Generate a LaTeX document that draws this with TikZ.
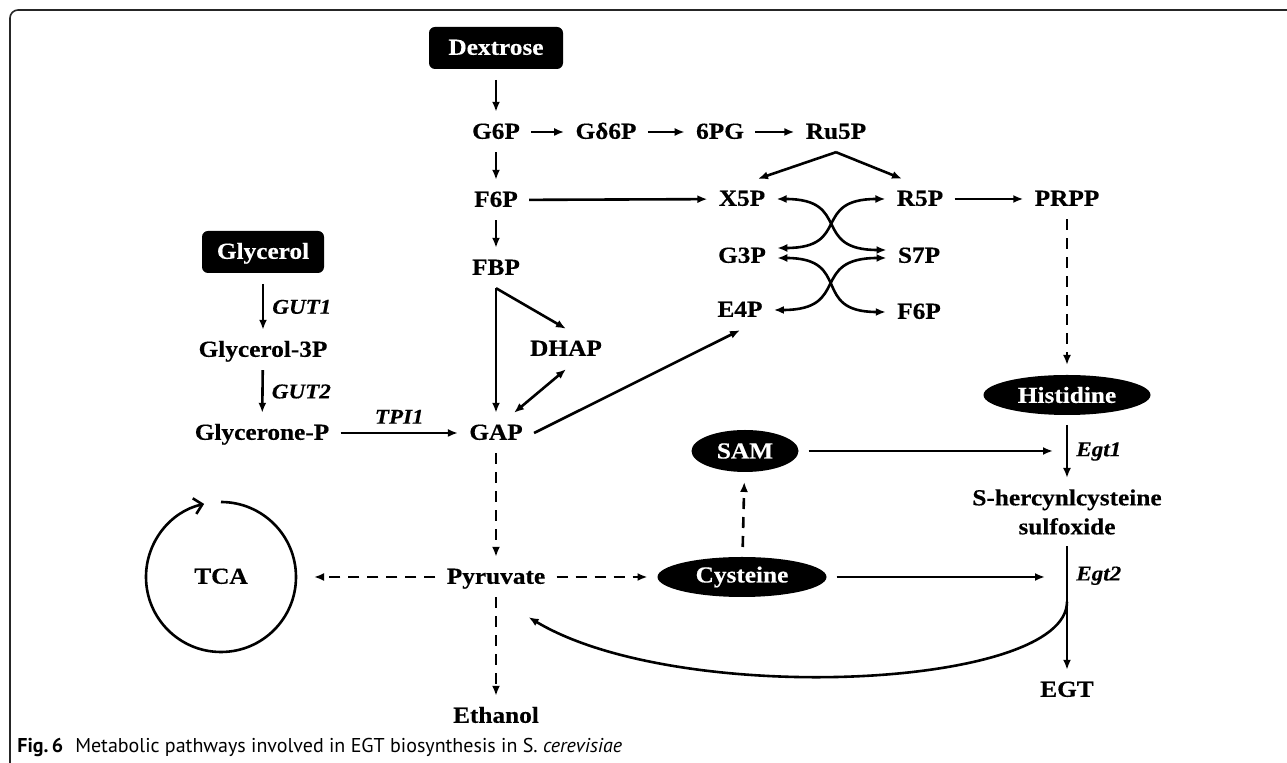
\documentclass[tikz,border=0pt]{standalone}
\usepackage{fontspec}
\usepackage{tikz}
\usetikzlibrary{shapes.geometric,arrows.meta,calc}
\newfontfamily\dfont{Liberation Serif}[FakeStretch=1.1,BoldFeatures={FakeBold=0.4},BoldItalicFeatures={FakeBold=0.4}]
\newfontfamily\cfont{PT Sans}
\tikzset{txt/.style={font=\dfont\bfseries\fontsize{11.5}{14.5}\selectfont,inner sep=5.5pt}}
\tikzset{met/.style={txt,text height=7.8pt,text depth=1pt}}
\tikzset{src/.style={met,fill=black,text=white,rounded corners=3pt,minimum height=21pt,outer sep=5.5pt}}
\tikzset{amino/.style={ellipse,fill=black,text=white,inner sep=0pt,outer sep=5pt,minimum height=20pt,font=\dfont\bfseries\fontsize{11.5}{14}\selectfont}}
\tikzset{enz/.style={font=\dfont\bfseries\itshape\fontsize{10.5}{12}\selectfont,inner sep=4pt}}
\tikzset{flow/.style={line width=1.3pt,-{Latex[length=5pt,width=4pt]}}}
\tikzset{dflow/.style={flow,dash pattern=on 5.5pt off 4pt}}
\tikzset{bflow/.style={line width=1.3pt,{Latex[length=5pt,width=4pt]}-{Latex[length=5pt,width=4pt]}}}
\tikzset{cyc/.style={line width=1.3pt,-{Straight Barb[length=4pt,width=8pt]}}}
\tikzset{figcap/.style={font=\cfont\fontsize{10}{12}\selectfont,inner sep=0pt,anchor=base west}}

\begin{document}
\begin{tikzpicture}[x=0.5pt,y=-0.5pt]
\useasboundingbox (0,0) rectangle (1287,763);
\draw[line width=0.8pt,black!85,rounded corners=4pt] (10,775) -- (10,10) -- (1300,10);
% glycolysis and pentose phosphate
\node[src,minimum width=67pt] (dex) at (496,48) {Dextrose};
\node[met] (g6p) at (496,132) {G6P};
\node[met] (gd6p) at (606,132) {Gδ6P};
\node[met] (pg6) at (720,132) {6PG};
\node[met] (ru5p) at (836,132) {Ru5P};
\node[met] (f6p) at (496,200) {F6P};
\node[met] (x5p) at (742,199) {X5P};
\node[met] (r5p) at (920,199) {R5P};
\node[met] (prpp) at (1067,199) {PRPP};
\node[met] (g3p) at (742,256) {G3P};
\node[met] (s7p) at (919,256) {S7P};
\node[met] (e4p) at (740,310) {E4P};
\node[met] (f6pb) at (919,312) {F6P};
\node[met] (fbp) at (496,268) {FBP};
\node[met] (dhap) at (566,349) {DHAP};
\node[met] (gap) at (496,433) {GAP};
% glycerol branch
\node[src,minimum width=61pt] (gly) at (263,252) {Glycerol};
\node[met] (gly3p) at (263,350) {Glycerol-3P};
\node[met] (glyp) at (262,433) {Glycerone-P};
% lower part
\node[met] (pyr) at (496,577) {Pyruvate};
\node[met,circle,minimum size=75pt,outer sep=9pt] (tca) at (221,577) {TCA};
\node[met] (eth) at (496,716) {Ethanol};
\node[amino,minimum width=84.5pt] (cys) at (742,577) {Cysteine};
\node[amino,minimum width=53.5pt,minimum height=21pt] (sam) at (745,451) {SAM};
\node[amino,minimum width=83.5pt] (his) at (1067,395) {Histidine};
\node[txt,align=center] (shc) at (1067,512) {S-hercynlcysteine\\sulfoxide};
\node[met] (egt) at (1067,690) {EGT};
\node[figcap] (caption) at (17,753) {\textbf{Fig.\,6}\hspace{6pt}Metabolic pathways involved in EGT biosynthesis in S.\ \textit{cerevisiae}};

\path[flow] (dex) edge (g6p);
\path[flow] (g6p) edge (gd6p);
\path[flow] (gd6p) edge (pg6);
\path[flow] (pg6) edge (ru5p);
\path[flow] (g6p) edge (f6p);
\path[flow] (ru5p.south) edge ([xshift=8pt]x5p.north);
\path[flow] (ru5p.south) edge ([xshift=-9pt]r5p.north);
\path[flow] (f6p) edge (x5p);
\path[flow] (r5p) edge (prpp);
\path[bflow] (x5p.east) edge[out=0,in=180,looseness=1.6] ([yshift=3pt]s7p.west);
\path[bflow] ([yshift=4pt]g3p.east) edge[out=0,in=180,looseness=1.6] (r5p.west);
\path[bflow] ([yshift=-1pt]g3p.east) edge[out=0,in=180,looseness=1.6] (f6pb.west);
\path[bflow] (e4p.east) edge[out=0,in=180,looseness=1.6] ([yshift=-1pt]s7p.west);
\path[flow] (f6p) edge (fbp);
\path[flow] (fbp.south) edge (gap);
\path[flow] (fbp.south) edge (dhap.north);
\path[bflow] (dhap.south) edge ([xshift=9pt]gap.north);
\path[flow] (gap.east) edge (e4p.south);
\path[flow] (gly) edge node[enz,right] {GUT1} (gly3p);
\path[flow] (gly3p) edge node[enz,right] {GUT2} (glyp);
\path[flow] (glyp) edge node[enz,above] {TPI1} (gap);
\path[dflow] (gap) edge (pyr);
\path[dflow] (pyr) edge (eth);
\path[dflow] (pyr) edge (tca);
\path[dflow] (pyr) edge (cys);
\path[dflow] (cys) edge (sam);
\path[dflow] (prpp) edge (his);
\path[flow] (his) edge node[enz,right] {Egt1} (shc);
\path[flow] (shc) edge node[enz,right,pos=0.24] {Egt2} (egt);
\path[flow] (sam) edge ($(his.south |- sam.east)+(-14,0)$);
\path[flow] (cys) edge ($(shc.south |- cys.east)+(-22,0)$);
% return to pyruvate
\coordinate (ret) at ($(shc.south)!0.45!(egt.north)$);
\draw[flow] (ret) .. controls +(0,87) and +(150,90) .. ([shift={(-28,20)}]pyr.south east);
% TCA cycle
\draw[cyc] ([yshift=37.5pt]tca.center) arc[start angle=90,end angle=-257,radius=37.5pt];
\end{tikzpicture}
\end{document}
